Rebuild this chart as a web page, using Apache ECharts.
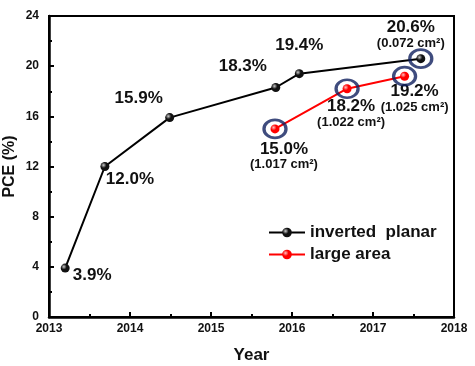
<!DOCTYPE html>
<html><head><meta charset="utf-8">
<script src="https://cdn.jsdelivr.net/npm/echarts@6/dist/echarts.min.js"></script>
<style>html,body{margin:0;padding:0;background:#fff}#c{width:475px;height:366px}</style>
</head><body><div id="c"></div>
<script>
const yearsInverted = [2013.2, 2013.69, 2014.49, 2015.8, 2016.09, 2017.59];
const pceInverted = [3.9, 12.0, 15.9, 18.3, 19.4, 20.6];
const areaInverted = ['', '', '', '', '', '0.072 cm²'];
const yearsLarge = [2015.79, 2016.68, 2017.39];
const pceLarge = [15.0, 18.2, 19.2];
const areaLarge = ['1.017 cm²', '1.022 cm²', '1.025 cm²'];
const xTicks = [2013, 2014, 2015, 2016, 2017, 2018];
const yTicks = [0, 4, 8, 12, 16, 20, 24];
const seriesNames = ['inverted  planar', 'large area'];

const offInv = [[27, 7], [25, 13], [-31, -19], [-33, -21], [0, -28], [-10, -24]];
const offLarge = [[9, 27], [4, 25], [10, 22]];
const FONT = 'Liberation Sans, Arial, sans-serif';

function ball(c, hi) {
  return {type: 'radial', x: 0.35, y: 0.35, r: 0.7,
    colorStops: [{offset: 0, color: hi}, {offset: 0.45, color: c}, {offset: 1, color: c}]};
}
function mkData(xs, ys, areas, offs) {
  return xs.map((x, i) => ({
    value: [x, ys[i]],
    area: areas[i],
    label: {offset: offs[i]}
  }));
}
const rich = {
  a: {fontSize: 17, fontWeight: 'bold', fontFamily: FONT, color: '#111', lineHeight: 18, align: 'center'},
  b: {fontSize: 13, fontWeight: 'bold', fontFamily: FONT, color: '#111', lineHeight: 14, align: 'center'}
};
const labelCfg = {
  show: true, position: 'inside', align: 'center', verticalAlign: 'middle',
  rich: rich,
  formatter: p => '{a|' + p.value[1].toFixed(1) + '%}' + (p.data.area ? '\n{b|(' + p.data.area + ')}' : '')
};
const ringData = yearsLarge.map((x, i) => [x, pceLarge[i]]).concat([[yearsInverted[5], pceInverted[5]]]);

const chart = echarts.init(document.getElementById('c'));
chart.setOption({
  animation: false,
  grid: {left: 49, right: 21, top: 16, bottom: 49, show: true, borderColor: '#000', borderWidth: 2,
         containLabel: false, outerBoundsMode: 'none'},
  legend: {
    orient: 'vertical', left: 263, top: 219, itemWidth: 36, itemHeight: 12, itemGap: 5,
    data: seriesNames,
    textStyle: {fontSize: 17, fontWeight: 'bold', fontFamily: FONT, color: '#111'}
  },
  xAxis: {
    type: 'value', min: xTicks[0], max: xTicks[xTicks.length - 1], interval: 1,
    name: 'Year', nameLocation: 'middle', nameGap: 30, nameMoveOverlap: false,
    nameTextStyle: {fontSize: 17, fontWeight: 'bold', fontFamily: FONT, color: '#111'},
    axisLine: {lineStyle: {color: '#000', width: 2.5}},
    axisTick: {inside: true, length: 5, lineStyle: {width: 2}},
    minorTick: {show: true, splitNumber: 2, length: 3, lineStyle: {color: '#000', width: 2}},
    splitLine: {show: false},
    axisLabel: {fontSize: 12, fontWeight: 'bold', fontFamily: FONT, color: '#111', margin: 6,
                formatter: v => String(v)}
  },
  yAxis: {
    type: 'value', min: yTicks[0], max: yTicks[yTicks.length - 1], interval: 4,
    name: 'PCE (%)', nameLocation: 'middle', nameGap: 31, nameMoveOverlap: false,
    nameTextStyle: {fontSize: 16, fontWeight: 'bold', fontFamily: FONT, color: '#111'},
    axisLine: {show: true, lineStyle: {color: '#000', width: 2.5}},
    axisTick: {show: true, inside: true, length: 5, lineStyle: {width: 2}},
    minorTick: {show: true, splitNumber: 2, length: 3, lineStyle: {color: '#000', width: 2}},
    splitLine: {show: false},
    axisLabel: {fontSize: 12, fontWeight: 'bold', fontFamily: FONT, color: '#111', margin: 10}
  },
  series: [
    {
      name: seriesNames[0], type: 'line', data: mkData(yearsInverted, pceInverted, areaInverted, offInv),
      symbol: 'circle', symbolSize: 9,
      lineStyle: {color: '#000', width: 2},
      itemStyle: {color: ball('#111', '#ccc')},
      label: labelCfg, z: 3
    },
    {
      name: seriesNames[1], type: 'line', data: mkData(yearsLarge, pceLarge, areaLarge, offLarge),
      symbol: 'circle', symbolSize: 9,
      lineStyle: {color: '#ff0000', width: 2},
      itemStyle: {color: ball('#ff0000', '#ffc0c0')},
      label: labelCfg, z: 3
    },
    {
      name: 'rings', type: 'scatter', data: ringData, symbol: 'circle', symbolSize: [22, 18],
      itemStyle: {color: 'rgba(0,0,0,0)', borderColor: '#0f1f5e', borderWidth: 3},
      silent: true, z: 4
    }
  ]
});
</script></body></html>
